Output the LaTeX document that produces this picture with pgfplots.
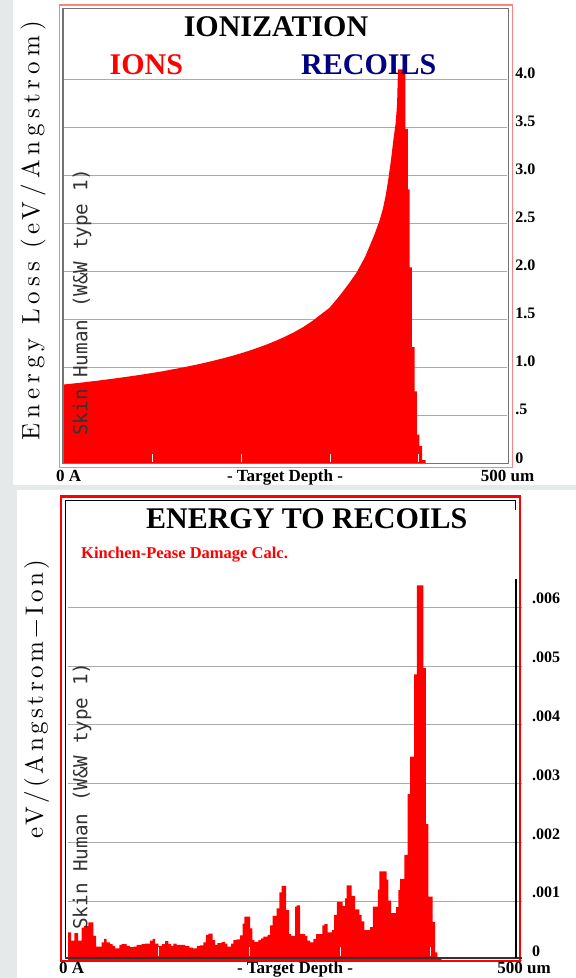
\documentclass[border=0pt]{standalone}
\usepackage{fontspec}
\setmainfont{Liberation Serif}
\newfontfamily\lmsp{lmroman10-regular.otf}[LetterSpace=20]
\newfontfamily\lmspb{lmroman10-regular.otf}[LetterSpace=14]
\newfontfamily\monof{DejaVu Sans Mono}
\usepackage{pgfplots}
\pgfplotsset{compat=1.18}

\definecolor{bggray}{RGB}{230,233,234}
\definecolor{gridgray}{RGB}{170,170,170}
\definecolor{redlight}{RGB}{255,130,130}
\definecolor{navyblue}{RGB}{0,0,128}
\definecolor{tickc}{RGB}{236,236,236}

\newcommand\ticklab{\fontsize{16}{16}\selectfont\bfseries}
\newcommand\foot{\fontsize{17}{17}\selectfont\bfseries}
\newcommand\ttl{\fontsize{30}{30}\selectfont\bfseries}

\pgfplotsset{panel/.style={
    scale only axis,
    axis line style={draw=none},
    xtick=\empty,
    yticklabel pos=right,
    ymajorgrids,
    major grid style={draw=gridgray, line width=0.9pt},
    major tick length=0pt,
    scaled y ticks=false,
    yticklabel style={anchor=west, inner sep=0pt, font=\ticklab},
}}

\begin{document}
\begin{tikzpicture}[x=1pt,y=1pt]
\fill[bggray] (0,0) rectangle (576,978);
\fill[white] (13,493) rectangle (576,978);
\fill[white] (17,0) rectangle (576,488);

% ---------------- IONIZATION ----------------
\begin{axis}[panel,
    at={(71.2,535.5)}, anchor=south west,
    width=444pt, height=432.45pt,
    xmin=0, xmax=500, ymin=0, ymax=4.5,
    ytick={0,0.5,1,1.5,2,2.5,3,3.5,4},
    yticklabels={0,.5,1.0,1.5,2.0,2.5,3.0,3.5,4.0},
    yticklabel style={xshift=8pt, yshift=5.5pt},
  ]
  \addplot[fill=red, draw=none] coordinates {
    (0,0.82) (10,0.83) (20,0.84) (30,0.851) (40,0.862) (50,0.874)
    (60,0.886) (70,0.899) (80,0.912) (90,0.926) (100,0.941) (110,0.955)
    (120,0.973) (130,0.99) (140,1.008) (150,1.027) (160,1.048) (170,1.07)
    (180,1.093) (190,1.118) (200,1.145) (210,1.174) (220,1.206) (230,1.24)
    (240,1.278) (250,1.319) (260,1.365) (270,1.417) (280,1.478) (290,1.549)
    (300,1.62) (310,1.73) (320,1.85) (330,1.98) (340,2.15) (350,2.37)
    (356,2.52) (360,2.65) (363,2.78) (366,2.95) (369,3.15) (372,3.38)
    (374.5,3.55) (376,3.75) (377,4.1) (385.4,4.1) (385.4,3.48) (388,3.48)
    (388,2.85) (390,2.85) (390,2.04) (392.5,2.04) (392.5,1.21) (395.6,1.21)
    (395.6,0.75) (398.2,0.75) (398.2,0.3) (401.2,0.3) (401.2,0.18) (404.2,0.18)
    (404.2,0.035) (408,0.035) (408,0) (500,0)
  } \closedcycle;
\end{axis}

% ---------------- ENERGY TO RECOILS ----------------
\begin{axis}[panel,
    at={(75,30.5)}, anchor=south west,
    width=453.6pt, height=388.1pt,
    xmin=0, xmax=500, ymin=0, ymax=0.0066,
    ytick={0,0.001,0.002,0.003,0.004,0.005,0.006},
    yticklabels={0,.001,.002,.003,.004,.005,.006},
    yticklabel style={xshift=10.4pt, yshift=8.5pt},
  ]
  \addplot[const plot, fill=red, draw=none] coordinates {
    (0,0.00047) (3.5,0.00033) (7,0.00046) (11,0.00033) (15,0.00055) (17.6,0.00058)
    (22.4,0.00064) (27.9,0.00041) (30.9,0.00023) (37.1,0.0003) (39.7,0.00036)
    (42.6,0.0003) (46.3,0.00027) (49.2,0.00024) (51.8,0.0002) (56.6,0.00026)
    (59.2,0.00027) (64.7,0.00024) (68.3,0.00022) (72,0.00023) (75.7,0.00026)
    (81.2,0.00027) (84.9,0.00028) (90.4,0.00033) (93.3,0.00036) (95.9,0.00028)
    (99.6,0.00024) (103.3,0.00027) (106.9,0.00032) (110.6,0.00027) (113.5,0.00024)
    (116.1,0.00028) (119.8,0.00026) (124.2,0.00026) (129,0.00024) (133.7,0.00021)
    (137.5,0.0002) (141.9,0.00024) (145.5,0.00025) (149.2,0.0003) (151.8,0.00043)
    (154.7,0.00045) (159.5,0.00034) (162,0.00026) (164.6,0.00029) (169.4,0.00031)
    (173.1,0.00028) (175.6,0.00023) (179.7,0.00028) (182.2,0.00034) (185.9,0.00035)
    (189.6,0.00042) (192.5,0.00062) (194.3,0.00074) (200.6,0.00054) (203.2,0.00034)
    (205.4,0.00031) (209.8,0.00034) (212.7,0.00037) (215.3,0.0004) (220.1,0.00043)
    (222.7,0.00059) (225.6,0.00075) (230,0.00088) (233,0.00115) (235.5,0.00126)
    (240.3,0.00085) (243.6,0.00044) (245.8,0.00041) (250.2,0.00091) (252.1,0.00093)
    (255.7,0.00044) (261.2,0.00041) (263.8,0.00033) (266.8,0.0003) (270.4,0.00036)
    (273.4,0.00044) (277,0.00044) (280.3,0.00059) (282.6,0.00061) (286.2,0.00047)
    (290.7,0.00051) (293.2,0.00077) (296.2,0.00099) (302.8,0.00092) (305.3,0.00105)
    (307.2,0.00127) (312.7,0.00109) (316.4,0.00086) (321.1,0.00077) (323.7,0.00066)
    (326.6,0.00051) (332.9,0.00056) (335.9,0.00091) (341.4,0.0012) (343.2,0.00151)
    (351.3,0.00137) (353.1,0.00101) (356,0.0008) (361.6,0.0009) (364.1,0.00119)
    (366,0.00138) (370.7,0.00179) (374.4,0.00282) (377,0.00346) (381.4,0.00486)
    (384.4,0.00637) (391.7,0.00497) (394.3,0.00231) (397.2,0.00108) (402,0.00065)
    (404.5,0.00013) (407.1,0.00005) (411.9,0) (500,0)
  } \closedcycle;
\end{axis}

% depth ticks
\foreach \t in {152.5,241.4,330.3,418.8} \draw[tickc, line width=1pt] (\t,516) -- (\t,524);
\foreach \t in {158.7,249.8,340.6,430.9} \draw[tickc, line width=1pt] (\t,22) -- (\t,30.5);

% frames, top panel
\draw[redlight, line width=1.4pt] (59.5,973) rectangle (512.5,510.3);
\draw[black!55, line width=1.2pt] (63,969.7) rectangle (508.8,514.5);

% frames, bottom panel
\draw[red, line width=2.4pt] (61,481.3) rectangle (520,17);
\draw[black, line width=1.6pt] (515.4,468) -- (515.4,477.3) -- (65.4,477.3) -- (65.4,20);
\draw[black!80, line width=2.2pt] (65.4,20) -- (521.7,20);
\draw[black, line width=2pt] (516,20) -- (516,399);

% texts, top panel
\node[font=\ttl] at (276,951.3) {IONIZATION};
\node[font=\ttl, text=red, anchor=west, inner sep=0pt] at (109.5,913) {IONS};
\node[font=\ttl, text=navyblue, anchor=west, inner sep=0pt] at (301,913) {RECOILS};
\node[rotate=90, inner sep=0pt] at (33,747) {\fontsize{25}{25}\lmsp Energy Loss (eV/Angstrom)};
\node[rotate=90, anchor=base west, inner sep=0pt, text=black!80] at (87.3,542)
  {\fontsize{19.3}{19.3}\monof Skin Human (W\&W type 1)};
\node[font=\foot, anchor=base west, inner sep=0pt] at (56,496) {0 A};
\node[font=\foot, anchor=base, inner sep=0pt] at (285,496) {- Target Depth -};
\node[font=\foot, anchor=base east, inner sep=0pt] at (534.5,496) {500 um};

% texts, bottom panel
\node[font=\ttl] at (306.7,459.7) {ENERGY TO RECOILS};
\node[text=red, anchor=base west, inner sep=0pt] at (81,419.7)
  {\fontsize{16.5}{16.5}\selectfont\bfseries Kinchen-Pease Damage Calc.};
\node[rotate=90, inner sep=0pt] at (36.7,279) {\fontsize{25}{25}\lmspb eV/(Angstrom−Ion)};
\node[rotate=90, anchor=base west, inner sep=0pt, text=black!80] at (87.3,48)
  {\fontsize{19.3}{19.3}\monof Skin Human (W\&W type 1)};
\node[font=\foot, anchor=base west, inner sep=0pt] at (59,4.5) {0 A};
\node[font=\foot, anchor=base, inner sep=0pt] at (295,4.5) {- Target Depth -};
\node[font=\foot, anchor=base east, inner sep=0pt] at (551,4.5) {500 um};

\pgfresetboundingbox
\path[use as bounding box] (0,0) rectangle (576,978);
\end{tikzpicture}
\end{document}
